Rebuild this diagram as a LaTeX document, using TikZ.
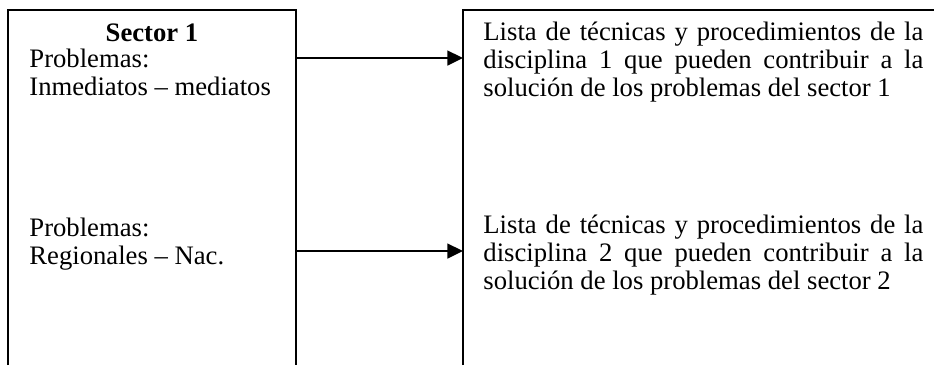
\documentclass[tikz,border=0pt]{standalone}
\usepackage{fontspec}
\setmainfont{Liberation Serif}
\usetikzlibrary{arrows.meta}

\begin{document}
\begin{tikzpicture}[x=0.45pt,y=-0.45pt,
    txt/.style={inner sep=0pt,anchor=base west,font=\fontsize{12}{12.8}\selectfont},
    edge/.style={line width=0.9pt},
    link/.style={line width=1.3pt,-{Triangle[length=7pt,width=6.5pt]}}]

\def\leftbox{(8,365) -- (8,10) -- (296,10) -- (296,365)}
\def\rightbox{(463,365) -- (463,10) -- (934,10)}

\useasboundingbox (0,0) rectangle (934,365);

% outline
\draw[edge] \leftbox;
\draw[edge] \rightbox;

% left column
\node[txt,anchor=base,font=\fontsize{12}{12.8}\selectfont\bfseries] (sector) at (152,41) {Sector 1};
\node[txt] (probA) at (29,67) {\parbox[t]{130pt}{\raggedright Problemas:\\ Inmediatos -- mediatos}};
\node[txt] (probB) at (29,236) {\parbox[t]{130pt}{\raggedright Problemas:\\ Regionales -- Nac.}};

% right column
\node[txt] (listA) at (483,40) {\parbox[t]{198pt}{\hyphenpenalty=10000 Lista de técnicas y procedimientos de la disciplina 1 que pueden contribuir a la solución de los problemas del sector 1}};
\node[txt] (listB) at (483,233) {\parbox[t]{198pt}{\hyphenpenalty=10000 Lista de técnicas y procedimientos de la disciplina 2 que pueden contribuir a la solución de los problemas del sector 2}};

% arrows
\coordinate (outA) at (296,58);
\coordinate (inA) at (463,58);
\coordinate (outB) at (296,251);
\coordinate (inB) at (463,251);
\draw[link] (outA) -- (inA);
\draw[link] (outB) -- (inB);

\end{tikzpicture}
\end{document}
